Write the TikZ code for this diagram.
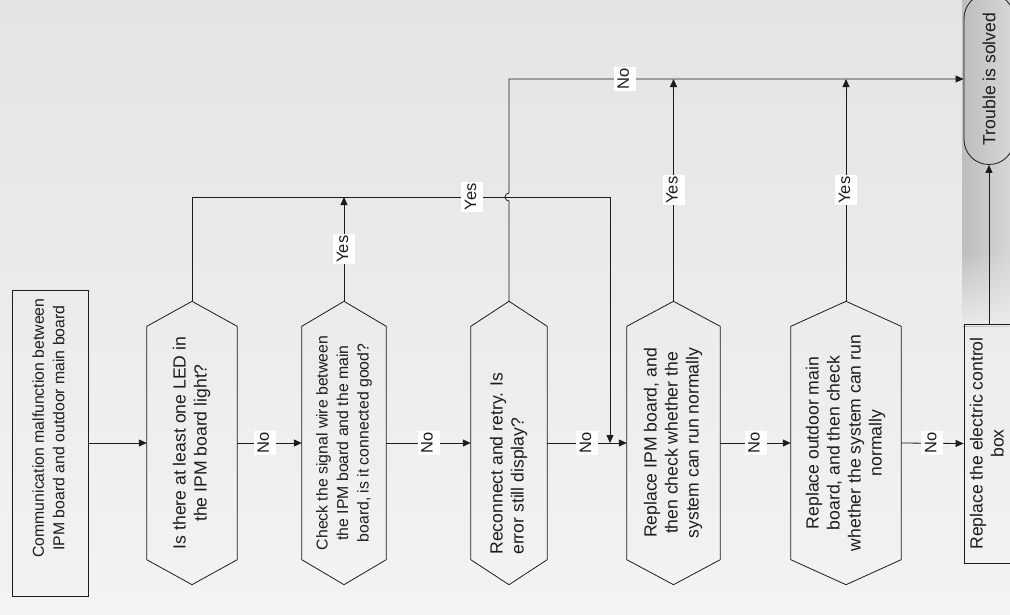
\documentclass[tikz,border=0pt]{standalone}
\usepackage{fontspec}
\setmainfont{Liberation Sans}
\usepackage{graphicx}
\usetikzlibrary{arrows.meta,calc,fadings}

\definecolor{bgtop}{HTML}{E4E4E4}
\definecolor{bgmid}{HTML}{EBEBEB}
\definecolor{bgbot}{HTML}{F3F3F3}
\definecolor{bandL}{HTML}{BDBDBD}
\definecolor{bandR}{HTML}{D6D6D6}
\definecolor{ink}{HTML}{1C1C1C}

% text set bottom-to-top
\newcommand\uptext[2]{\rotatebox{90}{\begin{tabular}{@{}#1@{}}#2\end{tabular}}}
\newcommand\lbltext[1]{\rotatebox{90}{\strut #1}}

% decision hexagon drawn around a sized body node
\newcommand\hexoutline[1]{%
  \coordinate (#1-top) at ($(#1.north)+(0,-25)$);
  \coordinate (#1-bot) at ($(#1.south)+(0,25)$);
  \draw[flow, line join=miter] (#1.north west) -- (#1-top) -- (#1.north east)
    -- (#1.south east) -- (#1-bot) -- (#1.south west) -- cycle;}

\tikzset{
  flow/.style={draw=ink, line width=0.8pt},
  arr/.style={flow, -{Triangle[length=8pt,width=7pt]}},
  bigtxt/.style={font=\fontsize{17.6}{21}\selectfont},
  midtxt/.style={font=\fontsize{15.8}{20.5}\selectfont},
  hexbody/.style={rectangle, inner sep=0pt, minimum width=#1, minimum height=233pt},
  procbox/.style={draw=ink, line width=0.8pt, rectangle, inner sep=0pt},
  lbl/.style={fill=white, inner xsep=1pt, inner ysep=1.5pt, font=\fontsize{16.5}{20}\selectfont},
}

\begin{document}
\begin{tikzpicture}[x=1pt, y=-1pt, every node/.style={text=ink}]
\useasboundingbox (0,0) rectangle (1010,614);

% backdrop with a darker strip at the right edge, fading out above the last box
\fill[top color=bgtop, bottom color=bgbot] (0,0) rectangle (1010,614);
\fill[left color=bandL, right color=bandR] (962,0) rectangle (1010,326);
\fill[bgmid, path fading=north] (962,250) rectangle (1010,326);

% steps
\node[procbox, minimum width=76pt, minimum height=306pt, midtxt] (start) at (50,443)
  {\rotatebox{90}{\hspace{30pt}\begin{tabular}{@{}c@{}}Communication malfunction between\\IPM board and outdoor main board\end{tabular}}};

\node[hexbody=90pt, bigtxt] (h1) at (192,443)
  {\uptext{c}{Is there at least one LED in\\the IPM board light?}};
\node[hexbody=84pt, midtxt] (h2) at (344,443)
  {\uptext{c}{Check the signal wire between\\the IPM board and the main\\board, is it connected good?}};
\node[hexbody=76pt, bigtxt] (h3) at (509,443)
  {\rotatebox{90}{\begin{tabular}{@{}l@{}}Reconnect and retry. Is\\error still display?\end{tabular}\hspace{41pt}}};
\node[hexbody=93pt, bigtxt] (h4) at (673.5,443)
  {\uptext{c}{Replace IPM board, and\\then check whether the\\system can run normally}};
\node[hexbody=110pt, bigtxt] (h5) at (846,443)
  {\uptext{c}{Replace outdoor main\\board, and then check\\whether the system can run\\normally}};

\hexoutline{h1}
\hexoutline{h2}
\hexoutline{h3}
\hexoutline{h4}
\hexoutline{h5}

\node[procbox, minimum width=50pt, minimum height=239pt, bigtxt] (fix) at (989,443.5)
  {\uptext{c}{Replace the electric control\\box}};
\node[procbox, rounded corners=24.9pt, minimum width=50pt, minimum height=171pt, bigtxt] (done) at (989,79)
  {\rotatebox{90}{Trouble is solved}};

\coordinate (yesrow) at (0,197);
\coordinate (merge) at (610,443);

% main line
\draw[arr] (start.east) -- (h1.west);
\draw[arr] (h1.east) -- node[lbl, pos=0.43] {\lbltext{No}} (h2.west);
\draw[arr] (h2.east) -- node[lbl] {\lbltext{No}} (h3.west);
\draw[arr] (h3.east) -- node[lbl] {\lbltext{No}} (h4.west);
\draw[arr] (h4.east) -- node[lbl] {\lbltext{No}} (h5.west);
\draw[arr] (h5.east) -- node[lbl] {\lbltext{No}} (fix.west);
\draw[arr] (fix.north) -- (done.south);

% return branches
\draw[arr] (h1-top) -- (h1-top |- yesrow) -- node[lbl, pos=0.67] {\lbltext{Yes}} (merge |- yesrow) -- (merge);
\draw[arr] (h2-top) -- node[lbl] {\lbltext{Yes}} (h2-top |- yesrow);
\draw[arr] (h3-top) -- ($(h3-top |- yesrow)+(0,4)$) arc[start angle=-90, end angle=-270, radius=4pt]
  -- (h3-top |- done.west) -- node[lbl, pos=0.255] {\lbltext{No}} (done.west);
\draw[arr] (h4-top) -- node[lbl] {\lbltext{Yes}} (h4-top |- done.west);
\draw[arr] (h5-top) -- node[lbl] {\lbltext{Yes}} (h5-top |- done.west);
\end{tikzpicture}
\end{document}
